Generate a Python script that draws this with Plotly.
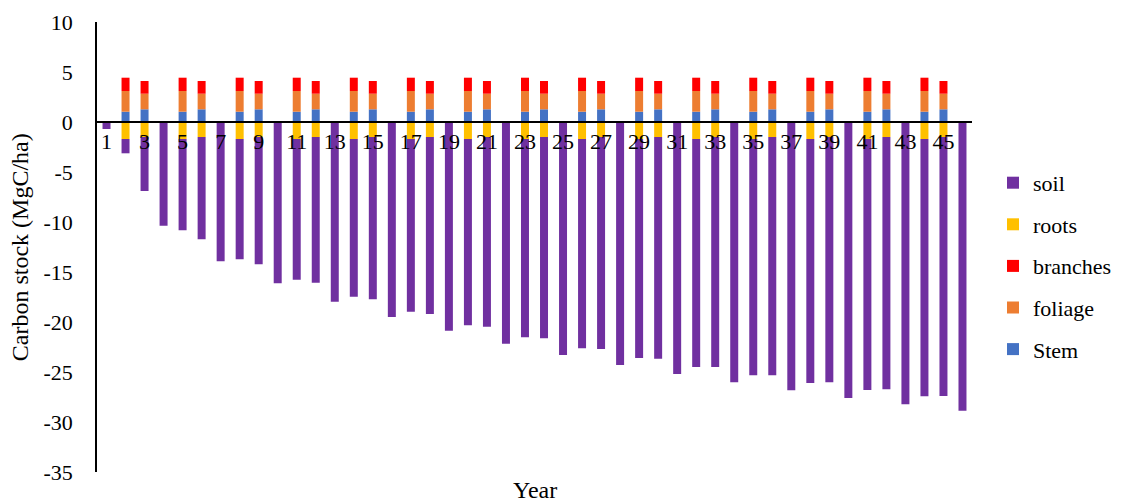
import plotly.graph_objects as go

years = list(range(1, 47))
year_labels = [str(y) for y in range(1, 46, 2)]
y_ticks = [10, 5, 0, -5, -10, -15, -20, -25, -30, -35]
y_tick_labels = ["10", "5", "0", "-5", "-10", "-15", "-20", "-25", "-30", "-35"]

stem = [0, 1.03, 1.27, 0, 1.03, 1.27, 0, 1.03, 1.27, 0, 1.03, 1.27, 0, 1.03, 1.27, 0,
        1.03, 1.27, 0, 1.03, 1.27, 0, 1.03, 1.27, 0, 1.03, 1.27, 0, 1.03, 1.27, 0,
        1.03, 1.27, 0, 1.03, 1.27, 0, 1.03, 1.27, 0, 1.03, 1.27, 0, 1.03, 1.27, 0]
foliage = [0, 2.07, 1.56, 0, 2.07, 1.56, 0, 2.07, 1.56, 0, 2.07, 1.56, 0, 2.07, 1.56, 0,
           2.07, 1.56, 0, 2.07, 1.56, 0, 2.07, 1.56, 0, 2.07, 1.56, 0, 2.07, 1.56, 0,
           2.07, 1.56, 0, 2.07, 1.56, 0, 2.07, 1.56, 0, 2.07, 1.56, 0, 2.07, 1.56, 0]
branches = [0, 1.33, 1.27, 0, 1.33, 1.27, 0, 1.33, 1.27, 0, 1.33, 1.27, 0, 1.33, 1.27, 0,
            1.33, 1.27, 0, 1.33, 1.27, 0, 1.33, 1.27, 0, 1.33, 1.27, 0, 1.33, 1.27, 0,
            1.33, 1.27, 0, 1.33, 1.27, 0, 1.33, 1.27, 0, 1.33, 1.27, 0, 1.33, 1.27, 0]
roots = [0, -1.7, -1.5, 0, -1.7, -1.5, 0, -1.7, -1.5, 0, -1.7, -1.5, 0, -1.7, -1.5, 0,
         -1.7, -1.5, 0, -1.7, -1.5, 0, -1.7, -1.5, 0, -1.7, -1.5, 0, -1.7, -1.5, 0,
         -1.7, -1.5, 0, -1.7, -1.5, 0, -1.7, -1.5, 0, -1.7, -1.5, 0, -1.7, -1.5, 0]
soil = [-0.7, -1.43, -5.4, -10.37, -9.13, -10.23, -13.93, -12.03, -12.73, -16.13,
        -14.07, -14.57, -17.97, -15.77, -16.23, -19.5, -17.27, -17.7, -20.87, -18.63,
        -18.97, -22.17, -19.83, -20.13, -23.3, -20.93, -21.2, -24.3, -21.9, -22.17,
        -25.2, -22.8, -23.0, -26.03, -23.63, -23.83, -26.83, -24.4, -24.53, -27.6,
        -25.1, -25.23, -28.23, -25.73, -25.9, -28.87]

series = [
    ("Stem", stem, "#4472C4", 5),
    ("foliage", foliage, "#ED7D31", 4),
    ("branches", branches, "#FF0000", 3),
    ("roots", roots, "#FFC000", 2),
    ("soil", soil, "#7030A0", 1),
]

FONT = "Liberation Serif, Times New Roman, serif"

fig = go.Figure()
for name, vals, col, rank in series:
    fig.add_trace(go.Bar(x=years, y=vals, name=name, marker_color=col,
                         marker_line_width=0, legendgroup=name, legendrank=rank))

fig.update_layout(
    barmode="relative",
    bargap=0.58,
    width=1116, height=496,
    margin=dict(l=89, r=152, t=14, b=32, autoexpand=False),
    paper_bgcolor="white", plot_bgcolor="white",
    font=dict(family=FONT, size=22, color="black"),
    showlegend=True,
    legend=dict(x=1.024, xanchor="left", y=0.458, yanchor="middle",
                traceorder="grouped", tracegroupgap=10,
                font=dict(family=FONT, size=22)),
    xaxis=dict(
        range=[0.5, 46.5],
        tickmode="array",
        tickvals=[int(t) for t in year_labels],
        ticktext=year_labels,
        anchor="free", position=35 / 45,
        showline=True, linecolor="black", linewidth=1.5,
        ticks="", showgrid=False, zeroline=False,
        tickfont=dict(family=FONT, size=22),
    ),
    yaxis=dict(
        range=[-35, 10],
        tickmode="array", tickvals=y_ticks, ticktext=y_tick_labels,
        showline=True, linecolor="black", linewidth=1.5,
        ticks="", showgrid=False, zeroline=False,
        ticklabelstandoff=18,
        tickfont=dict(family=FONT, size=22),
    ),
    annotations=[
        dict(text="Year", xref="paper", yref="paper", x=0.5, y=-0.006,
             xanchor="center", yanchor="top", showarrow=False,
             font=dict(family=FONT, size=24)),
        dict(text="Carbon stock (MgC/ha)", xref="paper", yref="paper",
             x=-0.0877, y=0.5, xanchor="center", yanchor="middle",
             textangle=-90, showarrow=False, font=dict(family=FONT, size=24)),
    ],
)

fig.write_html("out.html")
